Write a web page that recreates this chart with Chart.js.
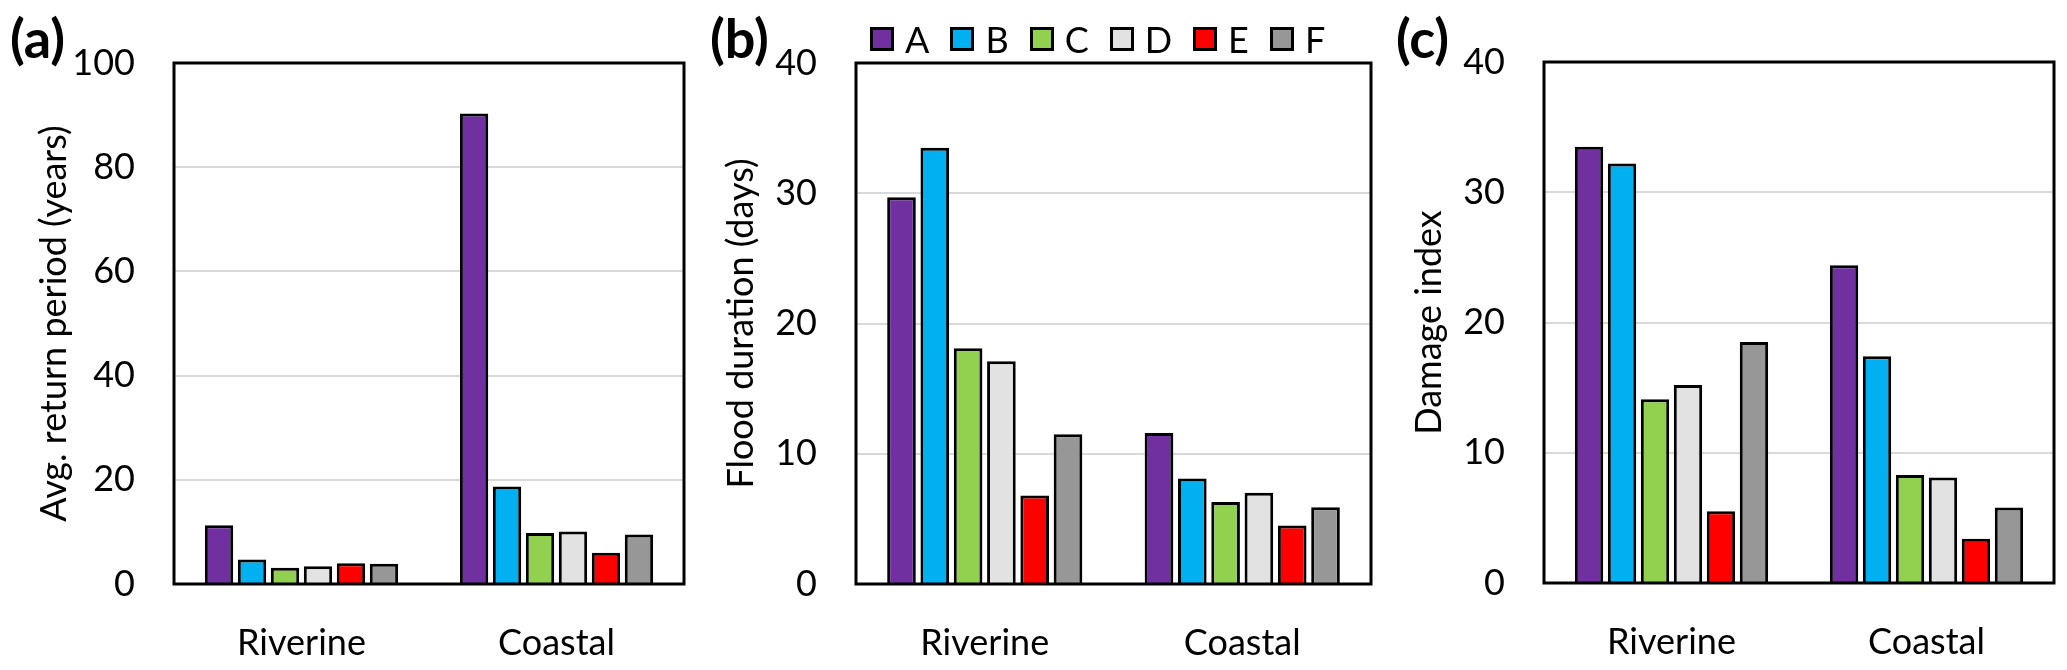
<!DOCTYPE html>
<html>
<head>
<meta charset="utf-8">
<script src="https://cdn.jsdelivr.net/npm/chart.js@4.4.1/dist/chart.umd.min.js"></script>
<style>
    html, body { margin: 0; padding: 0; background: #fff; }
    body { width: 2067px; height: 670px; position: relative; overflow: hidden; font-family: Lato, sans-serif; color: #000; }
    canvas { position: absolute; top: 0; }
    .tag { position: absolute; top: 11px; font-weight: bold; font-size: 54px; line-height: 1; }
    #legend { position: absolute; left: 870px; top: 27px; display: flex; font-size: 36px; line-height: 24px; }
    .item { display: flex; align-items: center; margin-right: 21px; }
    .swatch { width: 24px; height: 24px; box-sizing: border-box; border: 3px solid #000; margin-right: 11px; }
</style>
</head>
<body>
<canvas id="chart-a" width="690" height="670" style="left:0px"></canvas>
<canvas id="chart-b" width="690" height="670" style="left:690px"></canvas>
<canvas id="chart-c" width="687" height="670" style="left:1380px"></canvas>
<div class="tag" style="left:10px">(a)</div>
<div class="tag" style="left:710px">(b)</div>
<div class="tag" style="left:1396px">(c)</div>
<div id="legend"></div>
<script>
const categories = ['Riverine', 'Coastal'];
const seriesNames = ['A', 'B', 'C', 'D', 'E', 'F'];
const seriesColors = ['#7030A0', '#00B0F0', '#92D050', '#E2E2E2', '#FF0000', '#979797'];

// one row per series: [Riverine, Coastal]
const returnPeriod = [[11.3, 90.3], [4.7, 18.7], [3.1, 9.8], [3.4, 10.1], [4.0, 6.0], [3.9, 9.5]];
const floodDuration = [[29.7, 11.6], [33.5, 8.1], [18.1, 6.3], [17.1, 7.0], [6.8, 4.5], [11.5, 5.9]];
const damageIndex = [[33.5, 24.4], [32.2, 17.4], [14.1, 8.3], [15.2, 8.1], [5.5, 3.4], [18.5, 5.8]];

const returnTicks = [0, 20, 40, 60, 80, 100];
const durationTicks = [0, 10, 20, 30, 40];
const damageTicks = [0, 10, 20, 30, 40];

const axisFont = { family: 'Lato', size: 36 };

// black box round the plot area, drawn over the bars
const frame = {
    id: 'frame',
    afterDatasetsDraw(chart) {
        const { ctx, chartArea: a } = chart;
        ctx.save();
        ctx.strokeStyle = '#000';
        ctx.lineWidth = 3;
        ctx.strokeRect(a.left, a.top, a.right - a.left, a.bottom - a.top);
        ctx.restore();
    }
};

function makePanel(id, values, ticks, title, box) {
    const ctx = document.getElementById(id).getContext('2d');
    return new Chart(ctx, {
        type: 'bar',
        data: {
            labels: categories,
            datasets: seriesNames.map((name, i) => ({
                label: name,
                data: values[i],
                backgroundColor: seriesColors[i],
                borderColor: '#000',
                borderWidth: 3,
                categoryPercentage: 0.776,
                barPercentage: 0.86
            }))
        },
        options: {
            responsive: false,
            animation: false,
            devicePixelRatio: 1,
            layout: { padding: { left: 0, top: box.top, right: box.right, bottom: 0 } },
            plugins: {
                legend: { display: false },
                tooltip: { enabled: false }
            },
            scales: {
                x: {
                    grid: { display: false },
                    border: { display: false },
                    ticks: { color: '#000', font: axisFont, padding: 30 },
                    afterFit: scale => { scale.height = box.xHeight; }
                },
                y: {
                    min: ticks[0],
                    max: ticks[ticks.length - 1],
                    afterBuildTicks: scale => { scale.ticks = ticks.map(v => ({ value: v })); },
                    grid: { color: '#d9d9d9', lineWidth: 2, drawTicks: false },
                    border: { display: false },
                    ticks: { color: '#000', font: axisFont, padding: 39 },
                    title: {
                        display: true,
                        text: title,
                        color: '#000',
                        font: axisFont,
                        padding: { top: box.titleOffset - 21.6, bottom: 0 }
                    },
                    afterFit: scale => { scale.width = box.yWidth; }
                }
            }
        },
        plugins: [frame]
    });
}

makePanel('chart-a', returnPeriod, returnTicks, 'Avg. return period (years)',
    { top: 63, right: 6, xHeight: 86, yWidth: 174, titleOffset: 54 });
makePanel('chart-b', floodDuration, durationTicks, 'Flood duration (days)',
    { top: 63, right: 9, xHeight: 86, yWidth: 166, titleOffset: 51 });
makePanel('chart-c', damageIndex, damageTicks, 'Damage index',
    { top: 62, right: 13, xHeight: 87, yWidth: 164, titleOffset: 49 });

// legend above panel (b)
const legend = document.getElementById('legend');
seriesNames.forEach((name, i) => {
    const item = document.createElement('div');
    item.className = 'item';
    const swatch = document.createElement('span');
    swatch.className = 'swatch';
    swatch.style.background = seriesColors[i];
    const label = document.createElement('span');
    label.textContent = name;
    item.appendChild(swatch);
    item.appendChild(label);
    legend.appendChild(item);
});
</script>
</body>
</html>
